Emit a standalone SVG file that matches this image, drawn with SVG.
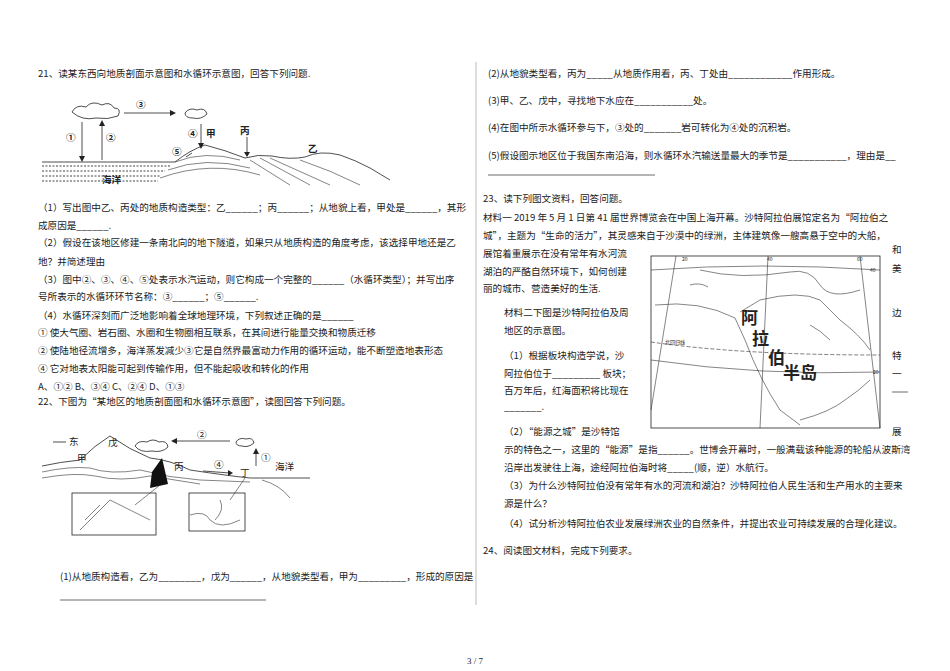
<svg xmlns="http://www.w3.org/2000/svg" width="950" height="671" viewBox="0 0 950 671">
<style>
text{font-family:"Noto Sans CJK SC","Liberation Serif",serif;font-size:9.6px;fill:#222}
.b{font-weight:bold}
.ln{stroke:#222;stroke-width:0.8;fill:none}
.th{stroke:#333;stroke-width:0.6;fill:none}
</style>
<rect width="950" height="671" fill="#fff"/>
<line x1="476" y1="62" x2="476" y2="605" stroke="#bbb" stroke-width="1"/>
<g id="q21">
<text x="38" y="77">21、读某东西向地质剖面示意图和水循环示意图，回答下列问题.</text>
<g id="fig1">
<path class="ln" d="M72,112 q4,-8 14,-5 q6,-7 16,-2 q8,-4 12,3 q8,0 4,8 q-10,4 -22,2 q-14,3 -24,-6z"/>
<path class="ln" d="M185,113 q4,-6 12,-3 q8,-3 10,4 q-6,6 -14,4 q-8,0 -8,-5z"/>
<line class="ln" x1="124" y1="113" x2="170" y2="113"/><path d="M170,110 l6,3 -6,3z" fill="#222"/>
<text x="136" y="108" class="b">③</text>
<line class="ln" x1="82" y1="122" x2="82" y2="158"/><path d="M79,156 l3,6 3,-6z" fill="#222"/>
<line class="ln" x1="102" y1="160" x2="102" y2="124"/><path d="M99,126 l3,-6 3,6z" fill="#222"/>
<text x="66" y="141" class="b">①</text><text x="106" y="141" class="b">②</text>
<line class="ln" x1="201" y1="124" x2="201" y2="145"/><path d="M198,143 l3,6 3,-6z" fill="#222"/>
<text x="188" y="137" class="b">④</text><text x="206" y="137" class="b">甲</text><text x="240" y="134" class="b">丙</text>
<text x="172" y="155" class="b">⑤</text>
<line class="ln" x1="192" y1="153" x2="186" y2="157"/>
<line class="ln" x1="247" y1="137" x2="247" y2="155"/><path d="M244,152 l3,5 3,-5z" fill="#222"/>
<path class="ln" d="M42,162 H175 Q190,150 205,145 Q225,150 245,158 Q258,154 272,156 Q290,160 305,157 Q320,150 340,155 Q355,160 370,168 L390,180"/>
<path class="th" d="M175,162 Q205,150 240,160 M168,170 Q205,156 250,168 M160,178 Q210,160 260,175 M250,160 L290,185 M260,158 L310,185 M270,158 L330,185 M300,160 Q330,170 360,185"/>
<path d="M42,166 H170 M42,171 H165 M42,176 H160 M42,181 H158" stroke="#444" stroke-width="1" stroke-dasharray="2,1.5"/>
<text x="102" y="183" class="b">海洋</text>
<text x="308" y="152" class="b">乙</text>
</g>
<text x="38" y="211">（1）写出图中乙、丙处的地质构造类型：乙______；丙______；从地貌上看，甲处是______，其形</text>
<text x="38" y="229">成原因是______.</text>
<text x="38" y="246">（2）假设在该地区修建一条南北向的地下隧道，如果只从地质构造的角度考虑，该选择甲地还是乙</text>
<text x="38" y="265">地？并简述理由</text>
<text x="38" y="283">（3）图中②、③、④、⑤处表示水汽运动，则它构成一个完整的______（水循环类型）；并写出序</text>
<text x="38" y="300">号所表示的水循环环节名称：③______；⑤______.</text>
<text x="38" y="319">（4）水循环深刻而广泛地影响着全球地理环境，下列叙述正确的是______</text>
<text x="38" y="336">① 使大气圈、岩石圈、水圈和生物圈相互联系，在其间进行能量交换和物质迁移</text>
<text x="38" y="354">② 使陆地径流增多，海洋蒸发减少③它是自然界最富动力作用的循环运动，能不断塑造地表形态</text>
<text x="38" y="372">④ 它对地表太阳能可起到传输作用，但不能起吸收和转化的作用</text>
<text x="38" y="390">A、①② B、③④ C、②④ D、①③</text>
</g>
<g id="q22">
<text x="38" y="405">22、下图为“某地区的地质剖面图和水循环示意图”，读图回答下列问题。</text>
<g id="fig2">
<line class="ln" x1="53" y1="442" x2="66" y2="442"/><text x="69" y="445">东</text>
<text x="108" y="446">戊</text><text x="77" y="462">甲</text><text x="174" y="470">丙</text><text x="240" y="476">丁</text>
<text x="275" y="470">海洋</text>
<path class="ln" d="M135,446 q3,-6 12,-4 q6,-4 12,0 q8,-2 9,5 q-6,6 -16,4 q-12,2 -17,-5z"/>
<path class="ln" d="M236,442 q3,-5 10,-3 q7,-2 8,4 q-6,5 -12,3 q-6,0 -6,-4z"/>
<line class="ln" x1="230" y1="441" x2="175" y2="441"/><path d="M177,438 l-6,3 6,3z" fill="#222"/><text x="197" y="438">②</text>
<line class="ln" x1="256" y1="466" x2="256" y2="452"/><path d="M253,454 l3,-6 3,6z" fill="#222"/><text x="261" y="461">①</text>
<line class="ln" x1="203" y1="471" x2="230" y2="473"/><path d="M228,470 l5,3 -5,3z" fill="#222"/><text x="214" y="468">④</text>
<path class="ln" d="M42,466 Q60,462 80,460 Q95,445 110,436 Q130,450 150,458 Q170,460 190,470 Q230,476 250,478 H310"/>
<path class="th" d="M42,472 Q70,466 90,468 Q110,475 140,470 Q170,478 200,480 L250,482 M42,478 Q75,472 95,476 Q120,482 150,476 L200,484 M262,480 Q280,485 290,498"/>
<path d="M152,472 L162,458 L168,484 L150,488z" fill="#111"/>
<rect x="72" y="493" width="84" height="42" class="ln"/>
<rect x="189" y="493" width="56" height="38" class="ln"/>
<path class="th" d="M80,530 L110,500 L150,520 M85,520 L100,505 M190,515 q15,-5 20,5 q10,10 30,0 M220,500 q5,10 -5,20"/>
<line class="th" x1="135" y1="505" x2="160" y2="485"/><line class="th" x1="230" y1="500" x2="245" y2="478"/>
</g>
<text x="60" y="580">(1)从地质构造看，乙为________，戊为______，从地貌类型看，甲为_________，形成的原因是</text>
<line x1="60" y1="600" x2="266" y2="600" stroke="#444" stroke-width="0.8"/>
<text x="488" y="77">(2)从地貌类型看，丙为_____从地质作用看，丙、丁处由____________作用形成。</text>
<text x="488" y="104">(3)甲、乙、戊中，寻找地下水应在___________处。</text>
<text x="488" y="131">(4)在图中所示水循环参与下，③处的_______岩可转化为④处的沉积岩。</text>
<text x="488" y="159">(5)假设图示地区位于我国东南沿海，则水循环水汽输送量最大的季节是___________，理由是__</text>
<line x1="488" y1="175" x2="655" y2="175" stroke="#444" stroke-width="0.8"/>
</g>
<g id="q23">
<text x="483" y="202">23、读下列图文资料，回答问题。</text>
<text x="483" y="221">材料一 2019 年 5 月 1 日第 41 届世界博览会在中国上海开幕。沙特阿拉伯展馆定名为“阿拉伯之</text>
<text x="483" y="239">城”，主题为“生命的活力”，其灵感来自于沙漠中的绿洲，主体建筑像一艘高悬于空中的大船，</text>
<text x="483" y="257">展馆着重展示在没有常年有水河流</text>
<text x="483" y="275">湖泊的严酷自然环境下，如何创建</text>
<text x="483" y="292">丽的城市、营造美好的生活.</text>
<text x="504" y="316">材料二下图是沙特阿拉伯及周</text>
<text x="504" y="334">地区的示意图。</text>
<text x="504" y="359">（1）根据板块构造学说，沙</text>
<text x="504" y="377">阿拉伯位于_________ 板块；</text>
<text x="504" y="394">百万年后，红海面积将比现在</text>
<text x="504" y="410">_______.</text>
<text x="892" y="253">和</text><text x="892" y="272">美</text><text x="892" y="316">边</text><text x="892" y="359">特</text><text x="892" y="377">一</text>
<line x1="892" y1="392" x2="908" y2="392" stroke="#444" stroke-width="0.8"/>
<g id="map">
<rect x="651" y="256" width="229" height="172" class="ln"/>
<path class="th" d="M676,256 L651,410 M768,256 L760,428 M860,256 L880,428 M651,270 Q760,262 880,270 M651,360 Q760,376 880,372"/>
<path d="M651,342 Q740,355 880,355" stroke="#444" stroke-width="0.7" fill="none" stroke-dasharray="4,2"/>
<text x="665" y="344" style="font-size:5px">北回归线</text>
<text x="682" y="261" style="font-size:5px">20</text><text x="767" y="261" style="font-size:5px">40</text><text x="857" y="261" style="font-size:5px">60</text><text x="870" y="272" style="font-size:5px">40</text><text x="873" y="374" style="font-size:5px">20</text>
<path class="th" d="M655,305 Q700,300 735,318 L745,340 Q760,380 780,410 L800,425 M740,312 L760,300 Q800,290 820,300 L840,320 Q860,335 870,350 M800,420 Q830,412 845,400 Q860,390 870,380 M690,285 q10,-3 18,2 M700,270 Q740,280 790,272 Q810,268 820,285 Q830,300 860,290 M810,325 q10,5 20,15"/>
<text x="741" y="324" class="b" style="font-size:17px">阿</text>
<text x="752" y="345" class="b" style="font-size:17px">拉</text>
<text x="768" y="364" class="b" style="font-size:17px">伯</text>
<text x="783" y="379" class="b" style="font-size:17px">半岛</text>
</g>
<text x="504" y="435">（2）“能源之城”是沙特馆</text><text x="892" y="435">展</text>
<text x="504" y="453">示的特色之一，这里的“能源”是指______。世博会开幕时，一般满载该种能源的轮船从波斯湾</text>
<text x="504" y="471">沿岸出发驶往上海，途经阿拉伯海时将_____(顺，逆）水航行。</text>
<text x="504" y="489">（3）为什么沙特阿拉伯没有常年有水的河流和湖泊？沙特阿拉伯人民生活和生产用水的主要来</text>
<text x="504" y="507">源是什么？</text>
<text x="504" y="527">（4）试分析沙特阿拉伯农业发展绿洲农业的自然条件，并提出农业可持续发展的合理化建议。</text>
</g>
<g id="q24"><text x="483" y="554">24、阅读图文材料，完成下列要求。</text></g>
<text x="475" y="664" text-anchor="middle" style="font-family:'Liberation Serif',serif;font-size:9px">3 / 7</text>
</svg>
